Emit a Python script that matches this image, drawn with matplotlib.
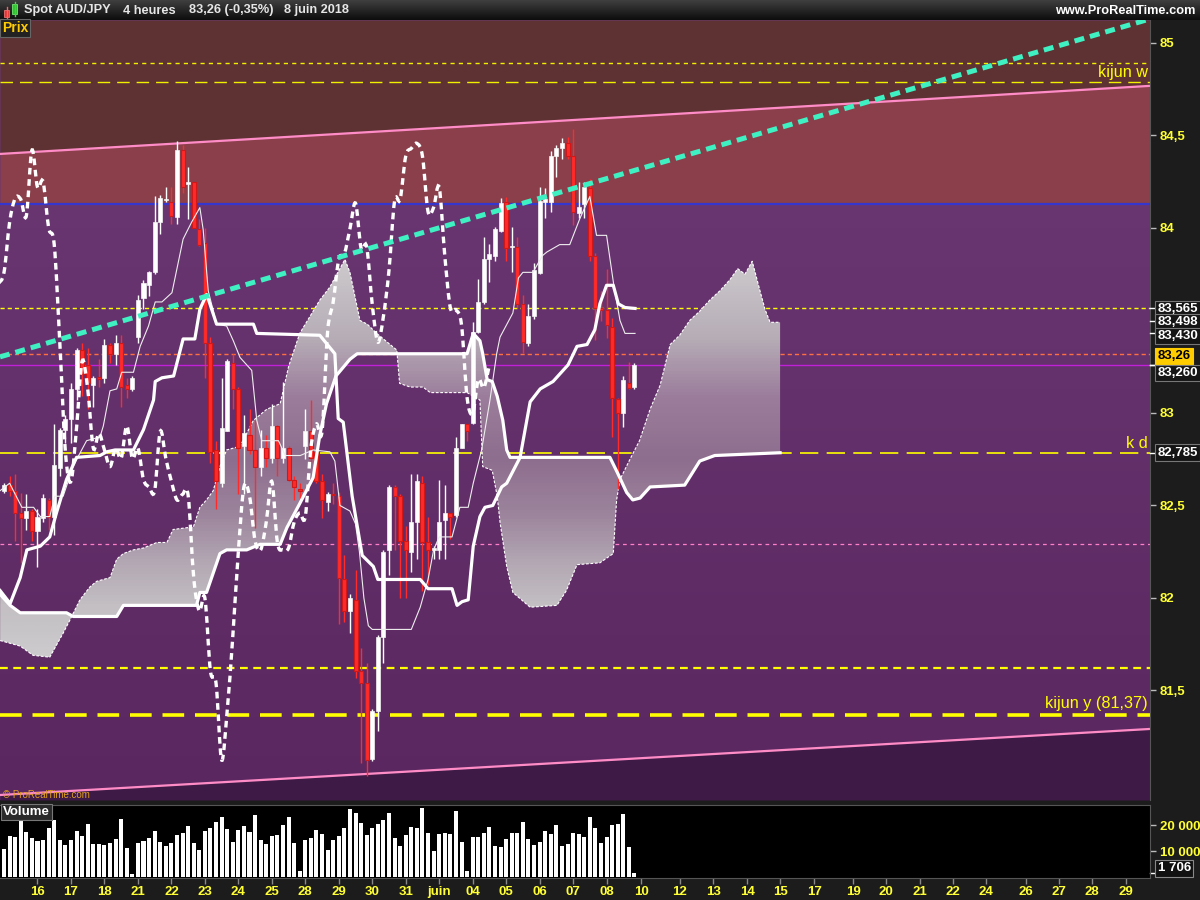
import numpy as np
import matplotlib
matplotlib.use("Agg")
import matplotlib.pyplot as plt
from matplotlib.patches import Rectangle, Polygon, PathPatch
from matplotlib.path import Path
from matplotlib.colors import LinearSegmentedColormap
from matplotlib.collections import LineCollection
import matplotlib.transforms as mtransforms

plt.rcParams['font.family'] = ['Liberation Sans', 'DejaVu Sans']

# ---------------- data (4h bars, index 0 = first bar of 15 May 2018) ----------------
opens = [82.58, 82.61, 82.58, 82.46, 82.43, 82.47, 82.36, 82.43, 82.53, 82.44,
         82.70, 82.91, 82.97, 83.13, 83.34, 83.26, 83.15, 83.193, 83.19, 83.37,
         83.32, 83.38, 83.15, 83.13, 83.41, 83.62, 83.69, 83.76, 84.03, 84.15,
         84.14, 84.06, 84.42, 84.24, 84.25, 83.995, 83.92, 83.38, 82.80, 82.62,
         82.905, 83.27, 83.13, 82.82, 82.88, 82.80, 82.71, 82.81, 82.755, 82.93,
         82.755, 82.81, 82.64, 82.59, 82.82, 82.90, 82.79, 82.63, 82.52, 82.56,
         82.55, 82.10, 81.93, 81.99, 81.605, 81.54, 81.13, 81.39, 81.79, 82.26,
         82.60, 82.55, 82.31, 82.25, 82.41, 82.62, 82.30, 82.26, 82.26, 82.42,
         82.46, 82.45, 82.81, 82.94, 82.945, 83.44, 83.60, 83.83, 83.85, 83.984,
         84.139, 83.895, 83.898, 83.591, 83.379, 83.522, 83.758, 84.141, 84.139, 84.388,
         84.434, 84.457, 84.388, 84.081, 84.129, 84.215, 83.85, 83.568, 83.557, 83.464,
         83.076, 83.002, 83.164, 83.141]
highs = [82.62, 82.66, 82.67, 82.57, 82.56, 82.48, 82.48, 82.56, 82.54, 82.94,
         82.92, 82.99, 83.16, 83.35, 83.38, 83.35, 83.20, 83.29, 83.40, 83.38,
         83.42, 83.42, 83.19, 83.20, 83.64, 83.72, 83.77, 84.17, 84.18, 84.22,
         84.22, 84.47, 84.45, 84.33, 84.25, 84.05, 84.00, 83.41, 82.85, 83.19,
         83.29, 83.32, 83.14, 82.99, 83.02, 82.96, 82.91, 82.88, 83.05, 82.935,
         83.17, 82.82, 82.66, 82.62, 83.02, 83.07, 82.79, 82.67, 82.575, 82.62,
         82.575, 82.23, 82.02, 82.15, 81.73, 81.65, 81.40, 81.80, 82.26, 82.61,
         82.61, 82.56, 82.39, 82.67, 82.67, 82.66, 82.44, 82.28, 82.64, 82.61,
         82.46, 82.87, 82.94, 82.94, 83.49, 83.725, 83.95, 83.915, 84.007, 84.162,
         84.169, 84.007, 83.949, 83.637, 83.591, 83.811, 84.222, 84.215, 84.416, 84.446,
         84.487, 84.492, 84.533, 84.249, 84.249, 84.266, 83.864, 83.661, 83.776, 83.515,
         83.083, 83.199, 83.273, 83.268]
lows = [82.57, 82.55, 82.31, 82.19, 82.37, 82.31, 82.17, 82.41, 82.37, 82.34,
        82.66, 82.84, 82.84, 83.07, 83.09, 83.02, 83.03, 83.14, 83.16, 83.27,
        83.26, 83.03, 83.08, 83.12, 83.38, 83.56, 83.63, 83.75, 83.97, 84.14,
        84.02, 84.02, 84.19, 84.05, 84.00, 83.90, 83.19, 82.73, 82.48, 82.60,
        82.90, 83.02, 82.56, 82.56, 82.78, 82.38, 82.66, 82.71, 82.73, 82.66,
        82.73, 82.63, 82.53, 82.53, 82.75, 82.73, 82.62, 82.43, 82.47, 82.51,
        81.86, 81.87, 81.81, 81.57, 81.11, 81.04, 81.12, 81.28, 81.65, 82.125,
        82.26, 82.00, 82.00, 82.14, 82.21, 82.04, 82.07, 82.21, 82.21, 82.21,
        82.32, 82.44, 82.81, 82.85, 82.94, 83.43, 83.59, 83.71, 83.82, 83.979,
        83.822, 83.764, 83.568, 83.326, 83.36, 83.51, 83.75, 84.053, 84.088, 84.273,
        84.372, 84.372, 84.018, 84.053, 84.053, 83.822, 83.395, 83.499, 83.406, 82.871,
        82.587, 82.926, 83.129, 83.129]
closes = [82.61, 82.58, 82.46, 82.43, 82.47, 82.36, 82.44, 82.54, 82.44, 82.72,
          82.91, 82.97, 83.13, 83.34, 83.21, 83.16, 83.19, 83.186, 83.37, 83.32,
          83.38, 83.14, 83.13, 83.19, 83.61, 83.70, 83.76, 84.03, 84.16, 84.155,
          84.065, 84.42, 84.22, 84.25, 84.00, 83.91, 83.38, 82.79, 82.63, 82.92,
          83.28, 83.13, 82.81, 82.89, 82.80, 82.71, 82.81, 82.755, 82.93, 82.755,
          82.81, 82.64, 82.60, 82.58, 82.90, 82.755, 82.63, 82.53, 82.56, 82.555,
          82.11, 81.93, 82.00, 81.605, 81.54, 81.125, 81.39, 81.79, 82.25, 82.60,
          82.55, 82.31, 82.26, 82.41, 82.63, 82.30, 82.26, 82.27, 82.41, 82.46,
          82.44, 82.81, 82.94, 82.90, 83.44, 83.60, 83.83, 83.86, 83.995, 84.134,
          83.891, 83.898, 83.587, 83.383, 83.522, 83.771, 84.145, 84.155, 84.388, 84.43,
          84.457, 84.388, 84.088, 84.111, 84.219, 83.85, 83.568, 83.557, 83.476, 83.083,
          82.998, 83.18, 83.136, 83.26]
volumes = [10769, 15769, 15385, 21923, 17308, 15000, 13846, 14231, 18846, 21923,
           14231, 12308, 14231, 17692, 15769, 20385, 12692, 12692, 12308, 13077,
           14615, 22308, 11154, 1154, 13077, 13846, 15000, 17692, 13462, 11923,
           13077, 16154, 16923, 19615, 13077, 10385, 17692, 18846, 21154, 23077,
           18462, 13462, 18077, 19615, 17308, 23846, 14231, 12692, 15769, 16154,
           20000, 23077, 13077, 2308, 14231, 15000, 18077, 16538, 10385, 14231,
           15769, 18846, 26154, 24615, 20769, 16154, 18846, 20385, 21923, 24615,
           15000, 11923, 16154, 19231, 18846, 26538, 16923, 10000, 16538, 16923,
           16538, 25385, 13462, 2308, 15385, 15385, 16923, 19231, 11923, 11538,
           14615, 16923, 16923, 21154, 14615, 12308, 13462, 17692, 16538, 20000,
           11923, 12692, 16923, 16538, 15385, 23077, 18846, 13077, 15385, 20000,
           20385, 24231, 11538, 1706]

# Ichimoku lines (bar index, price)
tenkan_x = [-0.7, 1, 3.2, 5.3, 6.5, 8.2, 9.1, 10.6, 12.5, 14.8, 17.2, 17.8, 19.0, 20.2, 21.1, 23.2,
            24.4, 25.9, 27.1, 28.3, 30.1, 32.1, 33.6, 35.1, 35.7, 36.6, 38.1, 39.9, 41.1, 42.3,
            43.8, 44.4, 45.3, 46.2, 49.2, 50.4, 53.1, 55.4, 58.4, 59.3, 60.2, 62, 63, 63.7, 64.5,
            65.3, 66, 73, 74.6, 76, 77, 78, 80.3, 81.7, 83.2, 84.1, 85.6, 87.1, 88.3, 88.9, 91.2,
            92.2, 93, 94.8, 96.5, 97.3, 99.6, 101.4, 103.2, 105, 106.2, 108, 109.2, 110.4, 111.3, 113.1]
tenkan_y = [82.58, 82.62, 82.49, 82.49, 82.44, 82.44, 82.55, 82.55, 82.72, 82.85, 82.87, 82.93,
            83.12, 83.13, 83.22, 83.22, 83.36, 83.47, 83.60, 83.60, 83.65, 83.94, 84.03, 84.11,
            83.99, 83.66, 83.48, 83.47, 83.39, 83.30, 83.25, 83.23, 82.96, 82.85, 82.85, 82.77,
            82.77, 82.80, 82.79, 82.74, 82.50, 82.47, 82.40, 82.25, 82.00, 81.85, 81.83, 81.83,
            81.95, 82.10, 82.26, 82.33, 82.33, 82.49, 82.49, 82.62, 82.80, 83.07, 83.32, 83.41,
            83.54, 83.73, 83.76, 83.76, 83.85, 83.87, 83.91, 83.91, 84.05, 84.17, 83.96, 83.96,
            83.71, 83.50, 83.43, 83.43]
kijun_x = [-0.7, 1.1, 2.9, 4.1, 6.5, 8.2, 9.4, 11.2, 13.0, 17.2, 18.4, 19.9, 23.2, 25.0, 26.8,
           27.1, 28.3, 30.4, 32.1, 34.2, 35.1, 36.3, 36.9, 38.1, 44.7, 45.3, 56.6, 59.3, 59.9,
           60.8, 62.4, 64.2, 66.2, 67.0, 74.6, 76.0, 80.3, 81.2, 82.1, 83.2, 84.1, 85.3, 86.2,
           87.6, 89.2, 90.1, 92.5, 94.3, 96.1, 98.4, 101.1, 102.7, 104.5, 105.9, 106.8, 108.0,
           109.2, 110.1, 111.3, 113.1]
kijun_y = [82.04, 81.97, 82.11, 82.26, 82.28, 82.33, 82.46, 82.64, 82.76, 82.77, 82.79, 82.80,
           82.80, 82.91, 83.07, 83.17, 83.19, 83.20, 83.40, 83.40, 83.56, 83.64, 83.59, 83.48,
           83.48, 83.43, 83.42, 83.32, 82.97, 82.95, 82.55, 82.23, 82.17, 82.10, 82.10, 82.05,
           82.05, 81.96, 81.98, 81.99, 82.28, 82.44, 82.49, 82.50, 82.60, 82.62, 82.76, 83.06,
           83.13, 83.17, 83.26, 83.36, 83.37, 83.45, 83.59, 83.69, 83.69, 83.59, 83.57, 83.565]
ssb_x = [-0.7, 1.1, 2.9, 11.2, 12.4, 20.2, 21.4, 34.5, 35.1, 36.3, 38.7, 39.9, 43.5, 45.9, 49.5,
         50.7, 53.0, 55.4, 56.6, 57.8, 59.5, 62.0, 63.3, 83.0, 84.1, 85.3, 85.8, 86.6, 87.5, 88.4,
         89.4, 90.1, 90.7, 108.6, 109.9, 111.6, 112.7, 114.0, 115.8, 122.0, 124.7, 127.4, 139.1]
ssb_y = [82.02, 81.96, 81.92, 81.92, 81.90, 81.90, 81.96, 81.96, 82.03, 82.03, 82.24, 82.26,
         82.26, 82.29, 82.29, 82.38, 82.51, 82.65, 82.88, 83.05, 83.20, 83.29, 83.32, 83.32,
         83.43, 83.39, 83.32, 83.18, 83.17, 83.09, 82.96, 82.80, 82.76, 82.76, 82.68, 82.57,
         82.53, 82.54, 82.60, 82.61, 82.74, 82.77, 82.785]
ssa_x = [-0.7, 2.9, 5.2, 8.2, 10.6, 11.8, 13.6, 15.4, 16.6, 19.0, 20.2, 21.4, 23.2, 25.0, 27.4,
         29.2, 30.3, 32.8, 33.9, 35.1, 36.3, 37.5, 38.7, 39.9, 42.3, 44.7, 47.1, 49.5, 51.0,
         53.0, 56.6, 58.4, 61.1, 62.0, 63.8, 65.1, 66.8, 70.4, 70.9, 72.8, 75.1, 76.4, 83.0,
         85.3, 85.8, 87.5, 88.4, 88.9, 90.1, 91.2, 94.3, 99.1, 100.8, 102.7, 106.8, 109.2,
         109.8, 110.4, 112.2, 113.9, 115.8, 117.6, 119.4, 121.1, 122.9, 124.7, 126.5, 128.3,
         130.1, 131.5, 132.8, 134.1, 135.5, 136.4, 137.3, 139.1]
ssa_y = [81.77, 81.74, 81.69, 81.68, 81.81, 81.88, 81.99, 82.06, 82.09, 82.11, 82.21, 82.24,
         82.26, 82.27, 82.30, 82.30, 82.37, 82.38, 82.38, 82.49, 82.53, 82.58, 82.71, 82.80,
         82.82, 82.96, 83.02, 83.05, 83.25, 83.43, 83.61, 83.68, 83.83, 83.76, 83.50, 83.48,
         83.43, 83.34, 83.16, 83.14, 83.14, 83.11, 83.11, 83.07, 82.71, 82.69, 82.55, 82.41,
         82.17, 82.03, 81.95, 81.96, 82.04, 82.18, 82.19, 82.24, 82.53, 82.64, 82.75, 82.85,
         83.02, 83.15, 83.37, 83.42, 83.50, 83.55, 83.61, 83.66, 83.72, 83.78, 83.75, 83.82,
         83.66, 83.56, 83.49, 83.49]
chikou_shift = 26

# trend lines (two end points each)
trend_x = [-0.72, 205.4]
green_y = [83.303, 85.13]
pink_up_y = [84.40, 84.768]
pink_lo_y = [80.935, 81.292]

# horizontal levels
blue_level = 84.13
kijun_w_levels = [84.892, 84.789]
level_83565 = 83.565
level_orange = 83.32
level_last = 83.26
level_kd = 82.785
level_pink = 82.29
level_dot = 81.62
level_kijun_y = 81.37

# axis labels
ytick_vals = [81.5, 82, 82.5, 83, 84, 84.5, 85]
ytick_labs = ['81,5', '82', '82,5', '83', '84', '84,5', '85']
vtick_vals = [10000, 20000]
vtick_labs = ['10 000', '20 000']
xtick_idx = [6, 12, 18, 24, 30, 36, 42, 48, 54, 60, 66, 72, 78, 84, 90, 96, 102, 108,
             114.2, 121.1, 127.1, 133.2, 139.1, 145.2, 152.2, 158.1, 164.2, 170.1, 176,
             183.2, 189.1, 195, 201.1]
xtick_labs = ['16', '17', '18', '21', '22', '23', '24', '25', '28', '29', '30', '31', 'juin',
              '04', '05', '06', '07', '08', '10', '12', '13', '14', '15', '17', '19', '20',
              '21', '22', '24', '26', '27', '28', '29']
right_boxes = [('83,565', 83.562, False), ('83,498', 83.49, False), ('83,430', 83.416, False),
               ('83,26', 83.308, True), ('83,260', 83.216, False), ('82,785', 82.785, False)]
right_box_levels = [83.565, 83.498, 83.430, 83.26, 83.26, 82.785]


def smooth_path(xs, ys):
    """Catmull-Rom curve through the given points, as cubic Bezier path (drawing only)."""
    pts = np.column_stack([xs, ys]).astype(float)
    verts = [tuple(pts[0])]
    codes = [Path.MOVETO]
    n = len(pts)
    for k in range(n - 1):
        p0 = pts[k - 1] if k > 0 else pts[k]
        p1, p2 = pts[k], pts[k + 1]
        p3 = pts[k + 2] if k + 2 < n else pts[k + 1]
        c1 = p1 + (p2 - p0) / 6.0
        c2 = p2 - (p3 - p1) / 6.0
        verts += [tuple(c1), tuple(c2), tuple(p2)]
        codes += [Path.CURVE4] * 3
    return Path(verts, codes)


# ---------------- figure ----------------
fig = plt.figure(figsize=(12, 9), dpi=100)
fig.patch.set_facecolor('#1c1c1c')

XMIN, XMAX = -0.72, 205.4
YMIN, YMAX = 80.908, 85.124

ax = fig.add_axes([0, 100 / 900, 1150 / 1200, 780 / 900])
ax.set_xlim(XMIN, XMAX)
ax.set_ylim(YMIN, YMAX)

grad = np.linspace(0, 1, 256).reshape(-1, 1)
bg_cm = LinearSegmentedColormap.from_list('bg', ['#5b2760', '#6e3a77'])
ax.imshow(grad, extent=[XMIN, XMAX, YMIN, YMAX], origin='lower', aspect='auto',
          cmap=bg_cm, zorder=0, interpolation='bilinear')
ax.fill_between(trend_x, pink_up_y, [YMAX, YMAX], color='#5e3232', lw=0, zorder=0.5)
ax.fill_between(trend_x, [blue_level, blue_level], pink_up_y, color='#8a3f4b', lw=0, zorder=0.5)
ax.fill_between(trend_x, [YMIN, YMIN], pink_lo_y, color='#3e1a47', lw=0, zorder=0.5)

# horizontal levels
ax.axhline(blue_level, color='#3535d0', lw=1.6, zorder=2)
ax.axhline(kijun_w_levels[0], color='#f0f000', lw=1.0, ls=(0, (3, 3)), zorder=2)
ax.axhline(kijun_w_levels[1], color='#f0f000', lw=1.0, ls=(0, (9, 5)), zorder=2)
ax.axhline(level_83565, color='#ffff00', lw=1.0, ls=(0, (3, 2.2)), zorder=2)
ax.axhline(level_orange, color='#ff7040', lw=1.0, ls=(0, (3, 2.2)), zorder=2)
ax.axhline(level_last, color='#c020d8', lw=1.0, zorder=2)
ax.axhline(level_kd, color='#ffff00', lw=1.2, ls=(0, (11, 5)), zorder=2)
ax.axhline(level_pink, color='#ff80c8', lw=0.9, ls=(0, (3, 3)), zorder=2)
ax.axhline(level_dot, color='#ffff00', lw=1.6, ls=(0, (3.5, 2.5)), zorder=2)
ax.axhline(level_kijun_y, color='#ffff00', lw=2.6, ls=(0, (6, 3)), zorder=2)

# pink channel
ax.plot(trend_x, pink_up_y, color='#ff8cc6', lw=1.6, zorder=2.5)
ax.plot(trend_x, pink_lo_y, color='#ff8cc6', lw=1.6, zorder=2.5)

# cloud with price-dependent gradient
stops_p = [YMIN, 81.7, 81.95, 82.2, 82.45, 82.75, 83.1, 83.4, 83.9, YMAX]
stops_c = ['#cccacc', '#cccacc', '#c3bfc3', '#b2a6b2', '#9c849c', '#8e6e8e', '#9c7e9c',
           '#b6acb6', '#d0cfd0', '#d0cfd0']
cl_cm = LinearSegmentedColormap.from_list(
    'cloud', [((p - YMIN) / (YMAX - YMIN), c) for p, c in zip(stops_p, stops_c)])
verts = list(zip(ssa_x, ssa_y)) + list(zip(ssb_x[::-1], ssb_y[::-1]))
poly = Polygon(verts, closed=True, facecolor='none', edgecolor='none', transform=ax.transData)
ax.add_patch(poly)
im = ax.imshow(grad, extent=[XMIN, XMAX, YMIN, YMAX], origin='lower', aspect='auto',
               cmap=cl_cm, zorder=3, interpolation='bilinear')
im.set_clip_path(poly)
ax.plot(ssa_x, ssa_y, color='white', lw=0.8, ls=(0, (2.5, 1.5)), zorder=3.5)

# candles
idx = np.arange(len(closes))
o = np.array(opens); h = np.array(highs); l = np.array(lows); c = np.array(closes)
up = c >= o
red = '#ff2b2b'
wick_segs = [[(i, l[i]), (i, h[i])] for i in idx]
wick_cols = ['white' if up[i] else red for i in idx]
ax.add_collection(LineCollection(wick_segs, colors=wick_cols, linewidths=1.0, zorder=4))
for i in idx:
    bot = min(o[i], c[i])
    hgt = max(abs(c[i] - o[i]), 0.006)
    if up[i]:
        ax.add_patch(Rectangle((i - 0.36, bot), 0.72, hgt, facecolor='white',
                               edgecolor='#f4f4f4', lw=0.5, zorder=4.2))
    else:
        ax.add_patch(Rectangle((i - 0.36, bot), 0.72, hgt, facecolor=red,
                               edgecolor='#d01818', lw=0.8, zorder=4.2))

# ichimoku lines
ax.plot(tenkan_x, tenkan_y, color='#eeeeee', lw=0.8, zorder=5)
ax.plot(kijun_x, kijun_y, color='white', lw=2.3, zorder=5, solid_joinstyle='round')
ax.plot(ssb_x, ssb_y, color='white', lw=2.3, zorder=5, solid_joinstyle='round')
chik = smooth_path(idx[chikou_shift - 1:] - chikou_shift, c[chikou_shift - 1:])
ax.add_patch(PathPatch(chik, fill=False, edgecolor='white', lw=2.4, ls=(0, (2.0, 1.4)),
                       zorder=5))

# green trend line
ax.plot(trend_x, green_y, color='#3ff0c2', lw=3.6, ls=(0, (2.0, 1.2)), zorder=8)

# texts on chart
trans = mtransforms.blended_transform_factory(ax.transAxes, ax.transData)
ax.text(1148 / 1150, 84.838, 'kijun w', color='#ffff00', fontsize=11.7, ha='right',
        va='center', transform=trans, zorder=9)
ax.text(1148 / 1150, 82.835, 'k d', color='#ffff00', fontsize=11.7, ha='right',
        va='center', transform=trans, zorder=9)
ax.text(1148 / 1150, 81.43, 'kijun y (81,37)', color='#ffff00', fontsize=11.7, ha='right',
        va='center', transform=trans, zorder=9)

# axes styling
ax.set_xticks([])
ax.yaxis.tick_right()
ax.set_yticks(ytick_vals)
ax.set_yticklabels(ytick_labs)
ax.tick_params(axis='y', direction='out', length=4, width=1, color='#bbbbbb',
               labelcolor='#ffff33', labelsize=9.5, pad=3)
for t in ax.get_yticklabels():
    t.set_fontweight('bold')
for s in ['top', 'left', 'bottom']:
    ax.spines[s].set_visible(False)
ax.spines['right'].set_color('#555555')

# right boxed labels
for (txt, ypos, hl), lev in zip(right_boxes, right_box_levels):
    ax.plot([1.0, 1.0045], [lev, lev], transform=trans, color='white', lw=1, clip_on=False,
            zorder=10)
    if hl:
        ax.text(1.0067, ypos, txt, transform=trans, ha='left', va='center', fontsize=9.5,
                fontweight='bold', color='black', clip_on=False, zorder=11,
                bbox=dict(boxstyle='square,pad=0.18', fc='#ffcc00', ec='#ffcc00', lw=0.8))
    else:
        ax.text(1.0067, ypos, txt, transform=trans, ha='left', va='center', fontsize=9.5,
                fontweight='bold', color='white', clip_on=False, zorder=11,
                bbox=dict(boxstyle='square,pad=0.18', fc='#151515', ec='#777777', lw=0.8))

# ---------------- volume panel ----------------
vax = fig.add_axes([0, 22 / 900, 1150 / 1200, 73 / 900])
vax.set_facecolor('black')
vax.set_xlim(XMIN, XMAX)
vax.set_ylim(-385, 27700)
vax.bar(idx, volumes, width=0.72, color='white', zorder=3)
vax.yaxis.tick_right()
vax.set_yticks(vtick_vals)
vax.set_yticklabels(vtick_labs)
vax.set_xticks(xtick_idx)
vax.set_xticklabels(xtick_labs)
vax.tick_params(axis='y', direction='out', length=4, width=1, color='#bbbbbb',
                labelcolor='#ffff33', labelsize=9.5, pad=3)
vax.tick_params(axis='x', direction='out', length=4, width=1, color='#888888',
                labelcolor='#ffff33', labelsize=9.5, pad=2)
for t in vax.get_yticklabels() + vax.get_xticklabels():
    t.set_fontweight('bold')
for s in ['top', 'right', 'bottom']:
    vax.spines[s].set_color('#555555')
vax.spines['left'].set_visible(False)
vtrans = mtransforms.blended_transform_factory(vax.transAxes, vax.transData)
vax.plot([1.0, 1.0045], [volumes[-1], volumes[-1]], transform=vtrans, color='white', lw=1,
         clip_on=False)
vax.text(1.0067, 3300, '{:,}'.format(volumes[-1]).replace(',', ' '), transform=vtrans,
         ha='left', va='center', fontsize=9.5, fontweight='bold', color='white', clip_on=False,
         bbox=dict(boxstyle='square,pad=0.18', fc='#111111', ec='#888888', lw=0.8))
fig.text(3 / 1200, 1 - 812 / 900, 'Volume', color='white', fontsize=9.5, fontweight='bold',
         ha='left', va='center',
         bbox=dict(boxstyle='square,pad=0.15', fc='#2a2a2a', ec='#777777', lw=0.8))

# ---------------- header ----------------
hax = fig.add_axes([0, 880 / 900, 1, 20 / 900])
hax.set_xlim(0, 1200)
hax.set_ylim(20, 0)
hax.imshow(np.linspace(0, 1, 20).reshape(-1, 1), extent=[0, 1200, 20, 0], aspect='auto',
           cmap=LinearSegmentedColormap.from_list('h', ['#3e3e3e', '#0e0e0e']))
hax.axis('off')
hax.plot([6.5, 6.5], [7, 18], color='#ff6060', lw=1)
hax.add_patch(Rectangle((4, 10), 5, 6.5, facecolor='#e03535', edgecolor='#ff8080', lw=0.5))
hax.plot([14.5, 14.5], [2, 16], color='#40d040', lw=1)
hax.add_patch(Rectangle((12, 4), 5, 9.5, facecolor='#30c030', edgecolor='#80ff80', lw=0.5))
for xpos, txt in [(24, 'Spot AUD/JPY'), (123, '4 heures'), (189, '83,26 (-0,35%)'),
                  (284, '8 juin 2018')]:
    hax.text(xpos, 10.5, txt, color='#e6e6e6', fontsize=9.2, fontweight='bold',
             ha='left', va='center')
hax.text(1195, 10.5, 'www.ProRealTime.com', color='white', fontsize=9.2, fontweight='bold',
         ha='right', va='center')

fig.text(2 / 1200, 1 - 28 / 900, 'Prix', color='#ffcc00', fontsize=10, fontweight='bold',
         ha='left', va='center',
         bbox=dict(boxstyle='square,pad=0.12', fc='#222222', ec='#666666', lw=0.8))
fig.text(3 / 1200, 1 - 795 / 900, '\u00a9 ProRealTime.com', color='#e0a020', fontsize=7,
         ha='left', va='center')

fig.savefig('out.png', dpi=100, facecolor=fig.get_facecolor())
